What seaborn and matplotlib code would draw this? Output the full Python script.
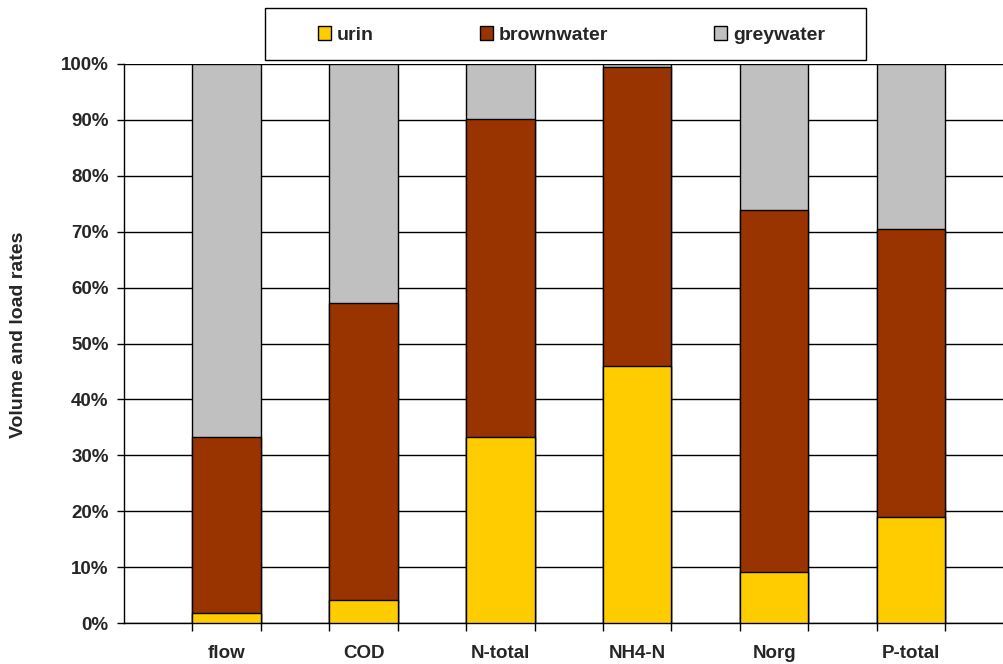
import numpy as np
import pandas as pd
import matplotlib
matplotlib.use("Agg")
import matplotlib.pyplot as plt
import seaborn as sns
from matplotlib.patches import Patch, Rectangle
from matplotlib.ticker import PercentFormatter, FixedLocator

# ---------------------------------------------------------------------------
# Data (percent of total)
# ---------------------------------------------------------------------------
categories = ["flow", "COD", "N-total", "NH4-N", "Norg", "P-total"]
urin = [1.8, 4.1, 33.3, 46.0, 9.2, 18.9]
brownwater = [31.5, 53.2, 56.9, 53.4, 64.7, 51.6]
greywater = [100 - u - b for u, b in zip(urin, brownwater)]

series_names = ["urin", "brownwater", "greywater"]
colors = {"urin": "#FFCC00", "brownwater": "#993300", "greywater": "#C0C0C0"}

sns.set_style("white")
plt.rcParams["font.family"] = ["Liberation Sans", "DejaVu Sans"]
plt.rcParams["font.weight"] = "bold"

df = pd.DataFrame({
    "category": categories,
    "urin": urin,
    "brownwater": brownwater,
    "greywater": greywater,
})
# cumulative heights so bars can be overplotted tallest first
df["top_grey"] = df["urin"] + df["brownwater"] + df["greywater"]
df["top_brown"] = df["urin"] + df["brownwater"]
df["top_urin"] = df["urin"]

fig = plt.figure(figsize=(10.04, 6.64), dpi=100)
ax = fig.add_axes([124 / 1004, 41 / 664, 880 / 1004, 559 / 664])

for col, name in [("top_grey", "greywater"), ("top_brown", "brownwater"), ("top_urin", "urin")]:
    sns.barplot(data=df, x="category", y=col, color=colors[name], width=0.5,
                edgecolor="black", linewidth=1.0, saturation=1, ax=ax, zorder=3)

ax.set_xlim(-0.75, 5.68)
ax.set_ylim(0, 100)
ax.yaxis.set_major_locator(FixedLocator(np.arange(0, 101, 10)))
ax.yaxis.set_major_formatter(PercentFormatter(decimals=0))
ax.grid(axis="y", color="black", linewidth=1.0, zorder=0)
ax.grid(axis="x", visible=False)

for side in ["top", "right"]:
    ax.spines[side].set_visible(False)
for side in ["left", "bottom"]:
    ax.spines[side].set_color("black")
    ax.spines[side].set_linewidth(1.0)

ax.tick_params(axis="y", direction="out", length=5, width=1, color="black",
               labelsize=13.5, left=True, pad=6)
ax.set_xticks(range(len(categories)))
ax.set_xticklabels(categories, fontweight="bold")
ax.tick_params(axis="x", which="major", length=0, labelsize=13.5, pad=16)
for lbl in ax.get_yticklabels():
    lbl.set_fontweight("bold")

# small ticks at the bar edges on the x axis
edges = np.sort(np.concatenate([np.arange(len(categories)) - 0.25,
                                np.arange(len(categories)) + 0.25]))
ax.set_xticks(edges, minor=True)
ax.tick_params(axis="x", which="minor", direction="out", length=6, width=1,
               color="black", bottom=True)

ax.set_xlabel("")
ax.set_ylabel("Volume and load rates", fontsize=14, fontweight="bold")
ax.yaxis.set_label_coords(-0.110, 0.516)

handles = [Patch(facecolor=colors[n], edgecolor="black", label=n) for n in series_names]
leg = fig.legend(handles=handles, loc="center left", ncol=3,
                 bbox_to_anchor=(318 / 1004, 1 - 35 / 664),
                 frameon=False, prop={"weight": "bold", "size": 14},
                 handlelength=0.67, handleheight=0.67, handletextpad=0.3,
                 columnspacing=5.45, borderpad=0, borderaxespad=0)

# legend frame (Excel style, wider on the right)
fig.patches.append(Rectangle((265 / 1004, 1 - 60 / 664), 601 / 1004, 52 / 664,
                             transform=fig.transFigure, fill=False,
                             edgecolor="black", linewidth=1.0))

fig.savefig("out.png", dpi=100)
